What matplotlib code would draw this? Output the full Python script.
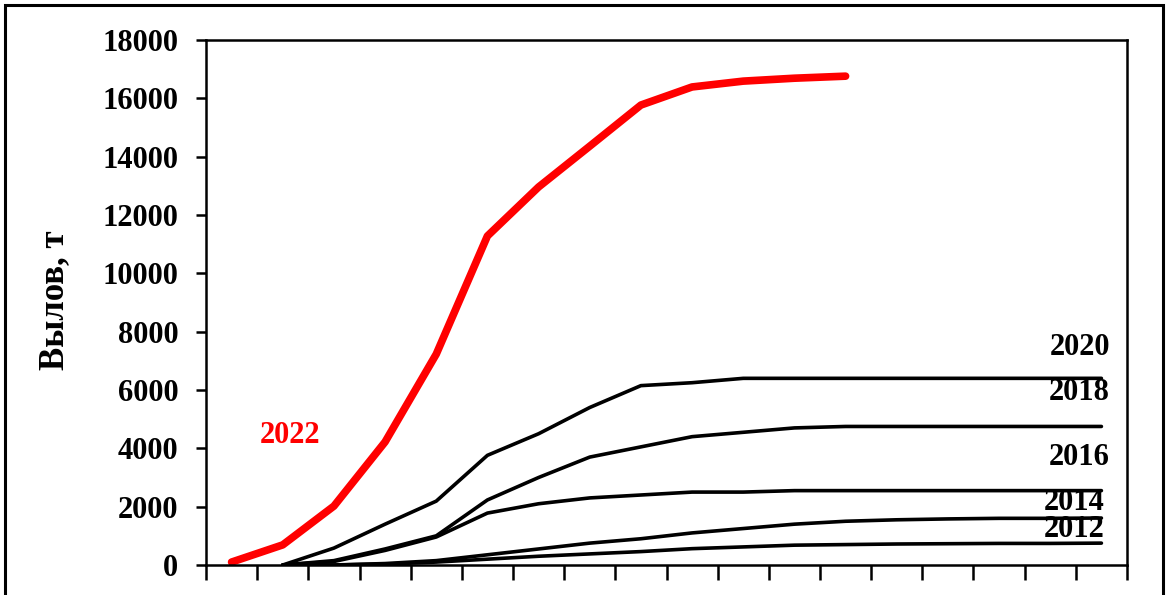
import matplotlib.pyplot as plt
from matplotlib.patches import Rectangle

# category index (18 periods, no labels shown on the axis)
periods = list(range(1, 19))

catch_2022 = [100, 690, 2020, 4220, 7230, 11280, 12960, 14360, 15770, 16390, 16590, 16690, 16760]
catch_2020 = [0, 580, 1400, 2190, 3760, 4500, 5400, 6150, 6250, 6400, 6400, 6400, 6400, 6400, 6400, 6400, 6400]
catch_2018 = [0, 150, 550, 1000, 2230, 3000, 3700, 4050, 4400, 4550, 4700, 4750, 4750, 4750, 4750, 4750, 4750]
catch_2016 = [0, 120, 500, 960, 1780, 2100, 2300, 2400, 2500, 2500, 2550, 2550, 2550, 2550, 2550, 2550, 2550]
catch_2014 = [0, 0, 50, 150, 350, 550, 750, 900, 1100, 1250, 1400, 1500, 1550, 1580, 1600, 1600, 1610]
catch_2012 = [0, 0, 30, 100, 200, 300, 380, 460, 560, 620, 680, 700, 720, 730, 740, 740, 750]

black_series = [catch_2020, catch_2018, catch_2016, catch_2014, catch_2012]

plt.rcParams['font.family'] = ['Liberation Serif', 'DejaVu Serif']
plt.rcParams['font.weight'] = 'bold'

fig = plt.figure(figsize=(11.68, 5.95), dpi=100)
ax = fig.add_axes([206 / 1168, 30 / 595, (1127 - 206) / 1168, (565 - 40) / 595])

for s in black_series:
    ax.plot(periods[1:1 + len(s)], s, color='black', lw=2.6, solid_capstyle='round')
ax.plot(periods[:len(catch_2022)], catch_2022, color='#ff0000', lw=5.5, solid_capstyle='round')

ax.set_xlim(0.5, 18.5)
ax.set_ylim(0, 18000)
ax.set_yticks(range(0, 18001, 2000))
ax.set_xticks([p - 0.5 for p in periods] + [18.5])
ax.set_xticklabels([])
ax.tick_params(axis='y', length=7, width=1.8, pad=13, labelsize=22)
ax.tick_params(axis='x', length=11, width=1.8)
for sp in ax.spines.values():
    sp.set_linewidth(1.8)

ax.set_ylabel('Вылов, т', fontsize=25, fontweight='bold')
ax.yaxis.set_label_coords(-0.146, 0.505)

ax.text(2.15, 4450, '2022', color='#ff0000', fontsize=22, ha='center', va='center')
ax.text(18.17, 7470, '2020', fontsize=22, ha='right', va='center')
ax.text(18.17, 5930, '2018', fontsize=22, ha='right', va='center')
ax.text(18.17, 3700, '2016', fontsize=22, ha='right', va='center')
ax.text(18.07, 2140, '2014', fontsize=22, ha='right', va='center')
ax.text(18.07, 1220, '2012', fontsize=22, ha='right', va='center')

# outer chart frame (bottom edge falls outside the image)
fig.patches.append(Rectangle((5 / 1168, -0.05), (1163 - 5) / 1168, 1.05 - 5 / 595,
                             transform=fig.transFigure, fill=False, lw=2.2, color='black'))

fig.savefig('out.png', dpi=100)
